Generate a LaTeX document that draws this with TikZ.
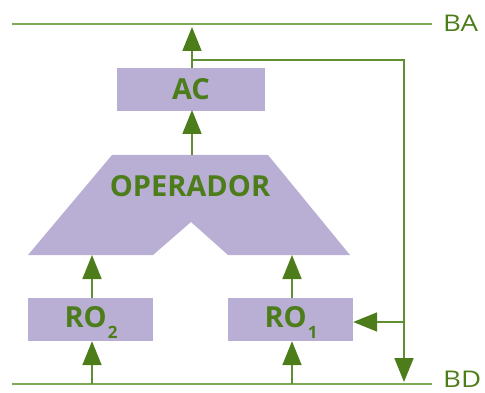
\documentclass[tikz,border=0pt]{standalone}
\usepackage{fontspec}
\setmainfont{Open Sans}
\usetikzlibrary{arrows.meta}
\definecolor{boxfill}{HTML}{B9AFD4}
\definecolor{dgreen}{HTML}{4D7D1B}
\definecolor{lgreen}{HTML}{7FA856}
\definecolor{cgreen}{HTML}{5F8F32}
\begin{document}
\begin{tikzpicture}[x=1pt,y=-1pt,
  bus/.style={draw=lgreen,line width=2.2pt},
  conn/.style={draw=cgreen,line width=1.8pt},
  arr/.style={conn,-{Triangle[length=24pt,width=19pt,color=dgreen]}},
  unit/.style={fill=boxfill,draw=none,minimum width=#1,minimum height=43pt,inner sep=0pt},
  lbl/.style={text=dgreen,font=\fontsize{29}{29}\selectfont\bfseries,inner sep=0pt},
  buslbl/.style={text=dgreen,font=\fontsize{23}{23}\selectfont,inner sep=0pt,anchor=base west}]
\useasboundingbox (0,0) rectangle (485,393);
% buses
\coordinate (baL) at (12,24);
\coordinate (baR) at (432,24);
\coordinate (bdL) at (12,384);
\coordinate (bdR) at (432,384);
\draw[bus] (baL) -- (baR);
\draw[bus] (bdL) -- (bdR);
\node[buslbl] (ba) at (443,32) {\scalebox{1.2}[1]{BA}};
\node[buslbl] (bd) at (443,387) {\scalebox{1.2}[1]{BD}};
% AC
\node[unit=148pt] (ac) at (191,89.5) {};
\node[lbl] (actext) at (ac.center) {AC};
% OPERADOR
\path[fill=boxfill] (112,155) -- (268,155) -- (350,255) -- (228,255) -- (191,222) -- (153,255) -- (28,255) -- cycle;
\node[lbl] (op) at (190,186) {OPERADOR};
\coordinate (opT) at (192,155);
\coordinate (opL) at (92,255);
\coordinate (opR) at (292,255);
% registers
\node[unit=125pt] (ro2) at (90.5,319.5) {};
\node[unit=125pt] (ro1) at (290.5,319.5) {};
\node[lbl,anchor=base] (ro2t) at (91,327) {RO\kern1pt\raisebox{-11pt}{\fontsize{17}{17}\selectfont 2}};
\node[lbl,anchor=base] (ro1t) at (291,327) {RO\kern1pt\raisebox{-11pt}{\fontsize{17}{17}\selectfont 1}};
% connectors
\coordinate (acTop) at (192,68);
\coordinate (acBot) at (192,111);
\coordinate (baAC) at (192,27);
\coordinate (brA) at (192,60);
\coordinate (brB) at (404,60);
\coordinate (brC) at (404,322);
\coordinate (bdBr) at (404,382);
\draw[arr] (acTop) -- (baAC);
\draw[arr] (opT) -- ([yshift=1pt]acBot);
\draw[conn] (brA) -- (brB) -- (brC);
\draw[arr] (brC) -- (bdBr);
\draw[arr] (brC) -- (ro1.east |- brC);
\draw[arr] (ro2.north -| opL) -- (opL);
\draw[arr] (ro1.north -| opR) -- (opR);
\draw[arr] (92,384) -- (ro2.south -| opL);
\draw[arr] (292,384) -- (ro1.south -| opR);
\end{tikzpicture}
\end{document}
